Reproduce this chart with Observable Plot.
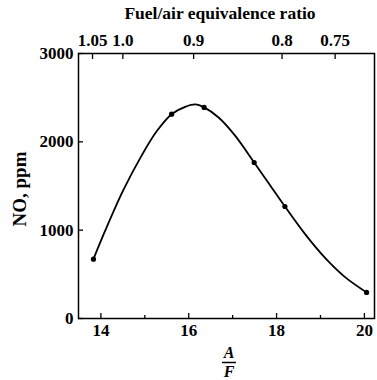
<!DOCTYPE html>
<html>
<head>
<meta charset="utf-8">
<script src="https://cdn.jsdelivr.net/npm/d3@7"></script>
<script src="https://cdn.jsdelivr.net/npm/@observablehq/plot@0.6"></script>
<style>
  html, body { margin: 0; padding: 0; background: #fff; }
  #chart svg { display: block; }
</style>
</head>
<body>
<div id="chart"></div>
<script>
const afRatio = [13.83, 15.61, 16.35, 17.49, 18.19, 20.05];
const noPpm = [672, 2313, 2390, 1766, 1268, 295];
// Smooth fitted curve
const curveAF = [13.83, 14.10, 14.51, 14.93, 15.27, 15.61, 15.92, 16.15, 16.35, 16.68, 17.06, 17.49, 17.82, 18.19, 18.65, 19.11, 19.56, 20.05];
const curveNO = [672, 997, 1453, 1847, 2119, 2313, 2396, 2423, 2390, 2276, 2068, 1766, 1532, 1268, 955, 683, 468, 295];
const xTicksMajor = [14, 16, 18, 20];
const xTicksMinor = [15, 17, 19];
const yTicks = [0, 1000, 2000, 3000];
const phiTicks = [1.05, 1.0, 0.9, 0.8, 0.75];
const phiLabels = ["1.05", "1.0", "0.9", "0.8", "0.75"];
const stoichAF = 14.5;

const points = afRatio.map((x, i) => ({x, y: noPpm[i]}));
const curve = curveAF.map((x, i) => ({x, y: curveNO[i]}));
const phiPos = phiTicks.map(p => stoichAF / p);

const font = "'Liberation Serif', 'DejaVu Serif', serif";
const txt = {fontFamily: font, fontSize: 17, fontWeight: "bold"};

const plot = Plot.plot({
  width: 377,
  height: 380,
  marginLeft: 78,
  marginRight: 3,
  marginTop: 53,
  marginBottom: 62,
  style: {fontFamily: font, fontSize: "17px", fontWeight: "bold", color: "#000", background: "#fff"},
  x: {domain: [13.49, 20.23]},
  y: {domain: [0, 3000]},
  marks: [
    Plot.frame({stroke: "#000", strokeWidth: 1.5}),
    Plot.axisX(xTicksMajor, {anchor: "bottom", tickSize: -5, tickPadding: 10, label: null, strokeWidth: 1.3, ...txt}),
    Plot.axisX(xTicksMinor, {anchor: "bottom", tickSize: -3, tickFormat: () => "", label: null, strokeWidth: 1.3}),
    Plot.axisX(phiPos, {anchor: "top", tickSize: -5, tickPadding: 13, label: null, strokeWidth: 1.3, ...txt,
      tickFormat: (d) => phiLabels[phiPos.indexOf(d)]}),
    Plot.axisY(yTicks, {anchor: "left", tickSize: -5, tickPadding: 10, label: null, strokeWidth: 1.3, ...txt,
      tickFormat: d3.format("d")}),
    Plot.line(curve, {x: "x", y: "y", curve: "catmull-rom", stroke: "#000", strokeWidth: 1.8}),
    Plot.dot(points, {x: "x", y: "y", r: 2.6, fill: "#000", stroke: "none"})
  ]
});

const svg = d3.select(plot);
svg.append("text")
  .attr("x", 220).attr("y", 19)
  .attr("text-anchor", "middle")
  .style("font-family", font).style("font-weight", "bold").style("font-size", "17.5px")
  .text("Fuel/air equivalence ratio");
svg.append("text")
  .attr("transform", "translate(26,189) rotate(-90)")
  .attr("text-anchor", "middle")
  .style("font-family", font).style("font-weight", "bold").style("font-size", "19px")
  .text("NO, ppm");
svg.append("text")
  .attr("x", 229).attr("y", 358)
  .attr("text-anchor", "middle")
  .style("font-family", font).style("font-weight", "bold").style("font-style", "italic").style("font-size", "16px")
  .text("A");
svg.append("line")
  .attr("x1", 222).attr("x2", 236).attr("y1", 362.5).attr("y2", 362.5)
  .attr("stroke", "#000").attr("stroke-width", 1.5);
svg.append("text")
  .attr("x", 229).attr("y", 376.5)
  .attr("text-anchor", "middle")
  .style("font-family", font).style("font-weight", "bold").style("font-style", "italic").style("font-size", "16px")
  .text("F");

document.getElementById("chart").appendChild(plot);
</script>
</body>
</html>
